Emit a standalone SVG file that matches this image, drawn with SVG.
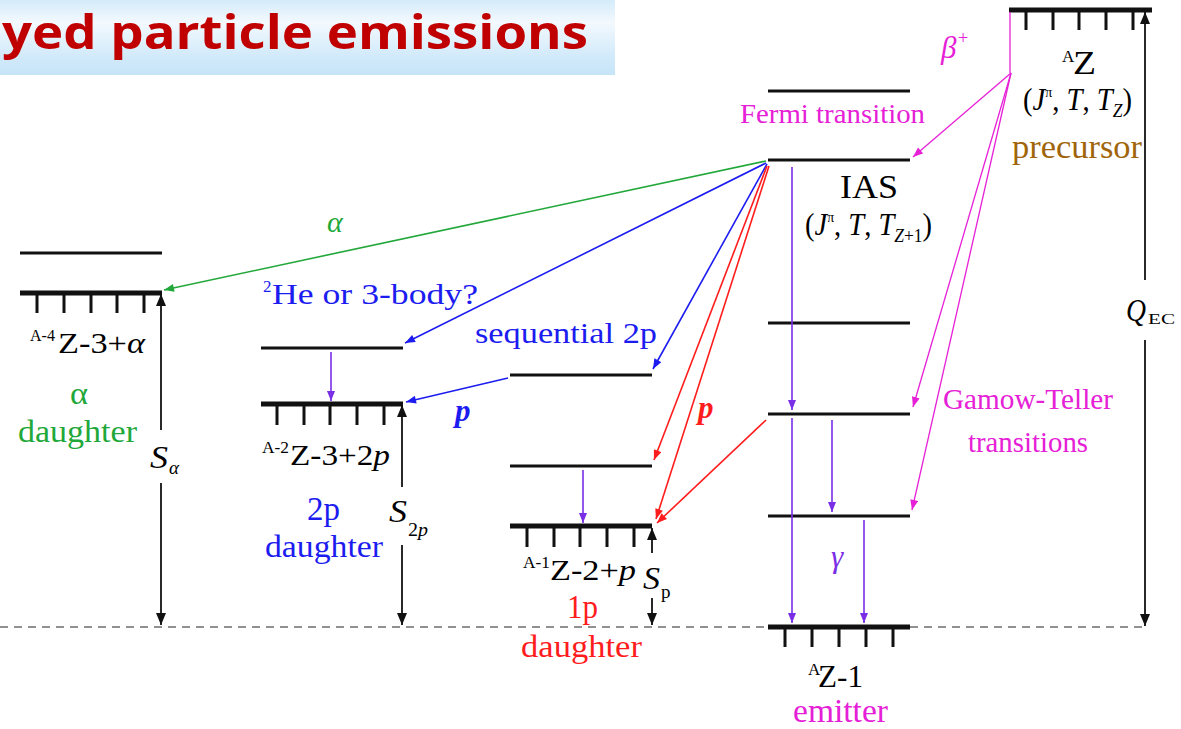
<svg xmlns="http://www.w3.org/2000/svg" width="1181" height="729" viewBox="0 0 1181 729">
<defs>
<linearGradient id="banner" x1="0" y1="0" x2="0" y2="1">
<stop offset="0" stop-color="#d4ebfa"/>
<stop offset="0.3" stop-color="#f3f9fe"/>
<stop offset="0.75" stop-color="#d2eafa"/>
<stop offset="1" stop-color="#c6e4f8"/>
</linearGradient>
<marker id="ah-green" viewBox="0 0 10 8" refX="10" refY="4" markerWidth="11" markerHeight="8" orient="auto" markerUnits="userSpaceOnUse"><path d="M0,0L10,4L0,8z" fill="#22a83a"/></marker>
<marker id="ah-blue" viewBox="0 0 10 8" refX="10" refY="4" markerWidth="11" markerHeight="8" orient="auto" markerUnits="userSpaceOnUse"><path d="M0,0L10,4L0,8z" fill="#1c1cf0"/></marker>
<marker id="ah-red" viewBox="0 0 10 8" refX="10" refY="4" markerWidth="11" markerHeight="8" orient="auto" markerUnits="userSpaceOnUse"><path d="M0,0L10,4L0,8z" fill="#ff1c1c"/></marker>
<marker id="ah-purple" viewBox="0 0 10 8" refX="10" refY="4" markerWidth="11" markerHeight="8" orient="auto" markerUnits="userSpaceOnUse"><path d="M0,0L10,4L0,8z" fill="#7a2ee6"/></marker>
<marker id="ah-magenta" viewBox="0 0 10 8" refX="10" refY="4" markerWidth="11" markerHeight="8" orient="auto" markerUnits="userSpaceOnUse"><path d="M0,0L10,4L0,8z" fill="#e620d6"/></marker>
<marker id="ah-black" viewBox="0 0 12 10" refX="12" refY="5" markerWidth="13" markerHeight="10" orient="auto" markerUnits="userSpaceOnUse"><path d="M0,0L12,5L0,10z" fill="#111"/></marker>
</defs>
<style>
.lvl{stroke:#111;stroke-width:3;fill:none;}
.gnd{stroke:#111;stroke-width:5;fill:none;}
.tick{stroke:#111;stroke-width:3;fill:none;}
.green{stroke:#22a83a;stroke-width:1.6;fill:none;marker-end:url(#ah-green);}
.blue{stroke:#1c1cf0;stroke-width:1.6;fill:none;marker-end:url(#ah-blue);}
.red{stroke:#ff1c1c;stroke-width:1.6;fill:none;marker-end:url(#ah-red);}
.purple{stroke:#7a2ee6;stroke-width:1.6;fill:none;marker-end:url(#ah-purple);}
.mag{stroke:#e620d6;stroke-width:1.3;fill:none;marker-end:url(#ah-magenta);}
.blka{stroke:#111;stroke-width:1.8;fill:none;marker-end:url(#ah-black);}
</style>
<rect width="1181" height="729" fill="#ffffff"/>

<g id="title">
<rect x="0" y="0" width="615" height="75" fill="url(#banner)"/>
<text x="2" y="49" font-family="Open Sans, Noto Sans, sans-serif" font-weight="700" font-size="47" fill="#c00000" textLength="586" lengthAdjust="spacingAndGlyphs">yed particle emissions</text>
</g>

<line x1="0" y1="627" x2="1145" y2="627" stroke="#222" stroke-width="1.2" stroke-dasharray="8,6"/>

<g font-family="Liberation Serif, Times New Roman, serif">
<g id="alpha-daughter">
<line class="lvl" x1="20" y1="253" x2="162" y2="253"/>
<line class="gnd" x1="20" y1="293" x2="162" y2="293"/>
<path class="tick" d="M37,293V313M64,293V313M91,293V313M117,293V313M144,293V313"/>
<text x="30" y="341" font-size="17" textLength="25" lengthAdjust="spacingAndGlyphs">A-4</text>
<text x="58" y="353" font-size="30" textLength="87" lengthAdjust="spacingAndGlyphs">Z-3+<tspan font-style="italic">α</tspan></text>
<text x="70" y="404" font-size="31" fill="#22a83a" textLength="18" lengthAdjust="spacingAndGlyphs">α</text>
<text x="18" y="442" font-size="31" fill="#22a83a" textLength="119" lengthAdjust="spacingAndGlyphs">daughter</text>
<text x="150" y="468" font-size="32" font-style="italic" textLength="18" lengthAdjust="spacingAndGlyphs">S</text>
<text x="169" y="474" font-size="19" font-style="italic">α</text>
</g>

<g id="twop-daughter">
<line class="lvl" x1="261" y1="348" x2="403" y2="348"/>
<line class="gnd" x1="261" y1="404" x2="403" y2="404"/>
<path class="tick" d="M277,404V425M304,404V425M330,404V425M357,404V425M384,404V425"/>
<text x="262" y="453" font-size="17" textLength="27" lengthAdjust="spacingAndGlyphs">A-2</text>
<text x="290" y="465" font-size="30" textLength="100" lengthAdjust="spacingAndGlyphs">Z-3+2<tspan font-style="italic">p</tspan></text>
<text x="307" y="520" font-size="33" fill="#1c1cf0" textLength="33" lengthAdjust="spacingAndGlyphs">2p</text>
<text x="265" y="557" font-size="31" fill="#1c1cf0" textLength="118" lengthAdjust="spacingAndGlyphs">daughter</text>
<text x="389" y="522" font-size="32" font-style="italic" textLength="18" lengthAdjust="spacingAndGlyphs">S</text>
<text x="408" y="536" font-size="18" textLength="20" lengthAdjust="spacingAndGlyphs">2<tspan font-style="italic">p</tspan></text>
</g>

<g id="onep-daughter">
<line class="lvl" x1="510" y1="375" x2="652" y2="375"/>
<line class="lvl" x1="510" y1="466" x2="652" y2="466"/>
<line class="gnd" x1="510" y1="526" x2="652" y2="526"/>
<path class="tick" d="M527,526V547M554,526V547M580,526V547M607,526V547M634,526V547"/>
<text x="523" y="568" font-size="17" textLength="27" lengthAdjust="spacingAndGlyphs">A-1</text>
<text x="550" y="580" font-size="30" textLength="86" lengthAdjust="spacingAndGlyphs">Z-2+<tspan font-style="italic">p</tspan></text>
<text x="567" y="618" font-size="33" fill="#ff1c1c" textLength="31" lengthAdjust="spacingAndGlyphs">1p</text>
<text x="521" y="657" font-size="31" fill="#ff1c1c" textLength="121" lengthAdjust="spacingAndGlyphs">daughter</text>
<text x="643" y="589" font-size="32" font-style="italic" textLength="17" lengthAdjust="spacingAndGlyphs">S</text>
<text x="661" y="598" font-size="19">p</text>
</g>

<g id="emitter">
<line class="lvl" x1="768" y1="91" x2="910" y2="91"/>
<line class="lvl" x1="768" y1="160" x2="910" y2="160"/>
<line class="lvl" x1="768" y1="323" x2="910" y2="323"/>
<line class="lvl" x1="768" y1="414" x2="910" y2="414"/>
<line class="lvl" x1="768" y1="516" x2="910" y2="516"/>
<line class="gnd" x1="768" y1="627" x2="910" y2="627"/>
<path class="tick" d="M785,627V647M812,627V647M839,627V647M866,627V647M893,627V647"/>
<text x="740" y="123" font-size="28" fill="#e620d6" textLength="185" lengthAdjust="spacingAndGlyphs">Fermi transition</text>
<text x="840" y="198" font-size="33" textLength="58" lengthAdjust="spacingAndGlyphs">IAS</text>
<text x="805" y="235" font-size="31" textLength="127" lengthAdjust="spacingAndGlyphs">(<tspan font-style="italic">J</tspan><tspan font-size="15" dy="-13">π</tspan><tspan dy="13">, </tspan><tspan font-style="italic">T</tspan>, <tspan font-style="italic">T</tspan><tspan font-size="19" dy="7"><tspan font-style="italic">Z</tspan>+1</tspan><tspan dy="-7">)</tspan></text>
<text x="831" y="567" font-size="31" font-style="italic" fill="#7a2ee6">γ</text>
<text x="808" y="675" font-size="17">A</text>
<text x="818" y="687" font-size="31" textLength="45" lengthAdjust="spacingAndGlyphs">Z-1</text>
<text x="793" y="722" font-size="33" fill="#e620d6" textLength="95" lengthAdjust="spacingAndGlyphs">emitter</text>
<text x="943" y="409" font-size="29" fill="#e620d6" textLength="170" lengthAdjust="spacingAndGlyphs">Gamow-Teller</text>
<text x="968" y="452" font-size="29" fill="#e620d6" textLength="120" lengthAdjust="spacingAndGlyphs">transitions</text>
</g>

<g id="precursor">
<line class="gnd" x1="1009" y1="10" x2="1152" y2="10"/>
<path class="tick" d="M1026,10V30M1053,10V30M1079,10V30M1106,10V30M1133,10V30"/>
<text x="1062" y="62" font-size="17">A</text>
<text x="1073" y="74" font-size="33" textLength="23" lengthAdjust="spacingAndGlyphs">Z</text>
<text x="1023" y="110" font-size="31" textLength="109" lengthAdjust="spacingAndGlyphs">(<tspan font-style="italic">J</tspan><tspan font-size="15" dy="-13">π</tspan><tspan dy="13">, </tspan><tspan font-style="italic">T</tspan>, <tspan font-style="italic">T</tspan><tspan font-size="19" dy="7" font-style="italic">Z</tspan><tspan dy="-7">)</tspan></text>
<text x="1012" y="158" font-size="33" fill="#a0650a" textLength="130" lengthAdjust="spacingAndGlyphs">precursor</text>
<text x="1126" y="321" font-size="32" font-style="italic" textLength="20" lengthAdjust="spacingAndGlyphs">Q</text>
<text x="1148" y="324" font-size="15" textLength="27" lengthAdjust="spacingAndGlyphs">EC</text>
<text x="941" y="58" font-size="31" font-style="italic" fill="#e620d6">β</text>
<text x="958" y="44" font-size="18" fill="#e620d6">+</text>
</g>

<g id="labels">
<text x="327" y="232" font-size="30" font-style="italic" fill="#22a83a">α</text>
<text x="263" y="292" font-size="17" fill="#1c1cf0">2</text>
<text x="272" y="304" font-size="30" fill="#1c1cf0" textLength="206" lengthAdjust="spacingAndGlyphs">He or 3-body?</text>
<text x="475" y="343" font-size="30" fill="#1c1cf0" textLength="182" lengthAdjust="spacingAndGlyphs">sequential 2p</text>
<text x="455" y="421" font-size="31" font-style="italic" font-weight="700" fill="#1c1cf0">p</text>
<text x="698" y="418" font-size="31" font-style="italic" font-weight="700" fill="#ff1c1c">p</text>
</g>
</g>

<g id="connectors">
<path class="green" d="M766,161L164,290"/>
<path class="blue" d="M766,163L405,343"/>
<path class="blue" d="M767,164L653,369"/>
<path class="blue" d="M508,378L406,402"/>
<path class="red" d="M767,166L654,460"/>
<path class="red" d="M769,166L656,519"/>
<path class="red" d="M766,420L657,523"/>
<path d="M1010,12V73" stroke="#e620d6" stroke-width="1.3" fill="none"/>
<path class="mag" d="M1011,73L913,157"/>
<path class="mag" d="M1011,73L913,407"/>
<path class="mag" d="M1011,73L912,510"/>
<path class="purple" d="M792,167V410"/>
<path class="purple" d="M792,418V623"/>
<path class="purple" d="M832,420V512"/>
<path class="purple" d="M864,520V623"/>
<path class="purple" d="M331,352V401"/>
<path class="purple" d="M583,470V523"/>
<path class="blka" d="M161,430V294"/>
<path class="blka" d="M161,483V625"/>
<path class="blka" d="M402,487V405"/>
<path class="blka" d="M402,545V625"/>
<path class="blka" d="M652,553V528"/>
<path class="blka" d="M652,598V625"/>
<path class="blka" d="M1145,280V12"/>
<path class="blka" d="M1145,340V626"/>
</g>
</svg>
